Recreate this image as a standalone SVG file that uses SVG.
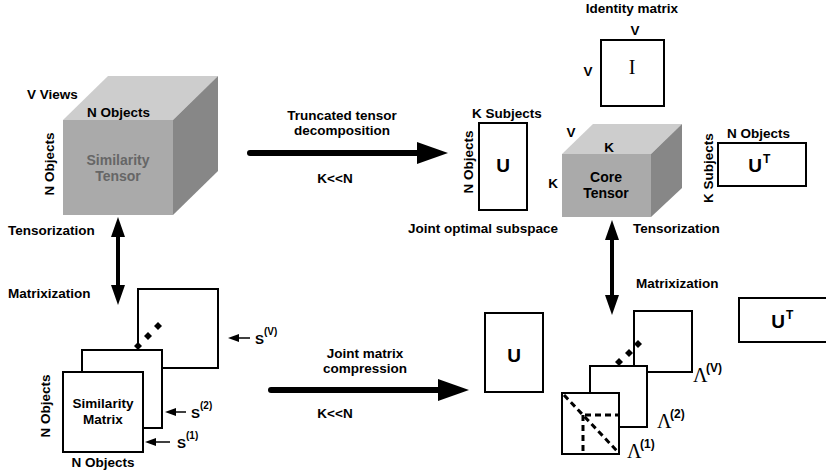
<svg xmlns="http://www.w3.org/2000/svg" width="826" height="474" viewBox="0 0 826 474">
  <style>
    text { font-family: "Liberation Sans", Arial, Helvetica, sans-serif; font-weight: bold; font-size: 13.5px; fill: #000; }
    .mid { text-anchor: middle; }
    .big { font-size: 19px; }
    .sup { font-size: 10px; }
    .serif { font-family: "Liberation Serif", "Times New Roman", serif; font-weight: normal; }
    .grey { fill: #666; font-size: 14px; }
    .box { fill: #fff; stroke: #000; stroke-width: 2; }
    .front { fill: #aaaaaa; }
    .top { fill: #cdcdcd; }
    .side { fill: #878787; }
    .thick { stroke: #000; stroke-width: 6; stroke-linecap: round; fill: none; }
    .dbl { stroke: #000; stroke-width: 4; fill: none; }
    .thin { stroke: #000; stroke-width: 1.5; fill: none; }
    .dash { stroke: #000; stroke-width: 3; stroke-dasharray: 6 4; fill: none; }
  </style>
  <defs>
    <marker id="bigHead" markerUnits="userSpaceOnUse" markerWidth="32" markerHeight="24" refX="0" refY="11" orient="auto">
      <path d="M0,0 L31,11 L0,22 z" fill="#000"/>
    </marker>
    <marker id="dblHead" markerUnits="userSpaceOnUse" markerWidth="22" markerHeight="16" refX="0" refY="7" orient="auto-start-reverse">
      <path d="M0,0 L20,7 L0,14 z" fill="#000"/>
    </marker>
    <marker id="smallHead" markerUnits="userSpaceOnUse" markerWidth="12" markerHeight="9" refX="0" refY="4" orient="auto">
      <path d="M0,0 L11,4 L0,8 z" fill="#000"/>
    </marker>
    <path id="diamond" d="M0,-4 L4,0 L0,4 L-4,0 z" fill="#000"/>
  </defs>

  <!-- similarity tensor cube -->
  <g id="similarity-tensor">
    <polygon class="top" points="63,120 173,120 218,76 108,76"/>
    <polygon class="side" points="173,120 218,76 218,171 173,215"/>
    <rect class="front" x="63" y="120" width="110" height="95"/>
    <text x="27" y="99">V Views</text>
    <text x="87" y="117">N Objects</text>
    <text transform="translate(54,164) rotate(-90)" class="mid">N Objects</text>
    <text x="118" y="165" class="mid grey">Similarity</text>
    <text x="118" y="181" class="mid grey">Tensor</text>
    <text x="8" y="235">Tensorization</text>
  </g>

  <!-- stack of similarity matrices -->
  <g id="similarity-matrices">
    <rect class="box" x="138" y="289" width="80" height="79"/>
    <rect class="box" x="82" y="350" width="80" height="78"/>
    <rect class="box" x="63" y="372" width="80" height="80"/>
    <use href="#diamond" x="138" y="346"/>
    <use href="#diamond" x="148" y="336"/>
    <use href="#diamond" x="158" y="326"/>
    <text x="8" y="298">Matrixization</text>
    <text x="103" y="408" class="mid">Similarity</text>
    <text x="103" y="424" class="mid">Matrix</text>
    <text transform="translate(50,406) rotate(-90)" class="mid">N Objects</text>
    <text x="103" y="467" class="mid">N Objects</text>
    <text x="255" y="344">S</text>
    <text x="264" y="335" class="sup">(V)</text>
    <text x="191" y="418">S</text>
    <text x="200" y="409" class="sup">(2)</text>
    <text x="177" y="448">S</text>
    <text x="186" y="439" class="sup">(1)</text>
  </g>

  <!-- factor U from the tensor decomposition -->
  <g id="u-tensor">
    <rect class="box" x="479" y="123" width="48" height="87"/>
    <text x="503" y="172" class="mid big">U</text>
    <text x="472" y="118">K Subjects</text>
    <text transform="translate(473,162) rotate(-90)" class="mid">N Objects</text>
    <text x="483" y="233" class="mid">Joint optimal subspace</text>
  </g>

  <!-- identity matrix -->
  <g id="identity-matrix">
    <rect class="box" x="601" y="40" width="63" height="66"/>
    <text x="632" y="13" class="mid">Identity matrix</text>
    <text x="635" y="35" class="mid">V</text>
    <text x="588" y="76" class="mid">V</text>
    <text x="632" y="74" class="mid serif" style="font-size:20px">I</text>
  </g>

  <!-- core tensor cube -->
  <g id="core-tensor">
    <polygon class="top" points="562,154 651,154 682,124 593,124"/>
    <polygon class="side" points="651,154 682,124 682,188 651,217"/>
    <rect class="front" x="562" y="154" width="89" height="63"/>
    <text x="571" y="137" class="mid">V</text>
    <text x="609" y="152" class="mid">K</text>
    <text x="553" y="188" class="mid">K</text>
    <text x="606" y="182" class="mid" style="font-size:14px">Core</text>
    <text x="606" y="198" class="mid" style="font-size:14px">Tensor</text>
    <text x="633" y="233">Tensorization</text>
  </g>

  <!-- transposed factor, tensor side -->
  <g id="ut-tensor">
    <rect class="box" x="718" y="143" width="88" height="43"/>
    <text x="755" y="172" class="mid big">U</text>
    <text x="763" y="163" class="sup" style="font-size:12px">T</text>
    <text x="727" y="138">N Objects</text>
    <text transform="translate(713,168) rotate(-90)" class="mid">K Subjects</text>
  </g>

  <!-- factor U from the matrix compression -->
  <g id="u-matrix">
    <rect class="box" x="485" y="313" width="58" height="79"/>
    <text x="514" y="362" class="mid big">U</text>
  </g>

  <!-- transposed factor, matrix side -->
  <g id="ut-matrix">
    <rect class="box" x="739" y="298" width="90" height="44"/>
    <text x="778" y="328" class="mid big">U</text>
    <text x="786" y="319" class="sup" style="font-size:12px">T</text>
  </g>

  <!-- stack of diagonal matrices -->
  <g id="lambda-matrices">
    <rect class="box" x="634" y="311" width="58" height="61"/>
    <rect class="box" x="590" y="366" width="57" height="61"/>
    <rect class="box" x="562" y="393" width="57" height="61"/>
    <line class="dash" x1="564" y1="395" x2="618" y2="452"/>
    <line class="dash" x1="585" y1="415" x2="619" y2="415"/>
    <line class="dash" x1="583" y1="415" x2="583" y2="454"/>
    <use href="#diamond" x="619" y="362"/>
    <use href="#diamond" x="629" y="353"/>
    <use href="#diamond" x="638" y="344"/>
    <text x="636" y="288">Matrixization</text>
    <text x="693" y="382" class="serif" style="font-size:20px">Λ</text>
    <text x="706" y="372" class="sup" style="font-size:12px">(V)</text>
    <text x="657" y="428" class="serif" style="font-size:20px">Λ</text>
    <text x="670" y="418" class="sup" style="font-size:12px">(2)</text>
    <text x="627" y="458" class="serif" style="font-size:20px">Λ</text>
    <text x="640" y="448" class="sup" style="font-size:12px">(1)</text>
  </g>

  <!-- connectors -->
  <g id="connectors">
    <line class="thick" x1="250" y1="153" x2="417" y2="153" marker-end="url(#bigHead)"/>
    <text x="342" y="120" class="mid">Truncated tensor</text>
    <text x="342" y="135" class="mid">decomposition</text>
    <text x="335" y="183" class="mid">K&lt;&lt;N</text>

    <line class="thick" x1="271" y1="390" x2="438" y2="390" marker-end="url(#bigHead)"/>
    <text x="365" y="358" class="mid">Joint matrix</text>
    <text x="365" y="373" class="mid">compression</text>
    <text x="335" y="418" class="mid">K&lt;&lt;N</text>

    <line class="dbl" x1="118" y1="237" x2="118" y2="285" marker-start="url(#dblHead)" marker-end="url(#dblHead)"/>
    <line class="dbl" x1="612" y1="240" x2="612" y2="295" marker-start="url(#dblHead)" marker-end="url(#dblHead)"/>

    <line class="thin" x1="250" y1="338" x2="239" y2="338" marker-end="url(#smallHead)"/>
    <line class="thin" x1="186" y1="412" x2="176" y2="412" marker-end="url(#smallHead)"/>
    <line class="thin" x1="170" y1="442" x2="156" y2="442" marker-end="url(#smallHead)"/>
  </g>
</svg>
